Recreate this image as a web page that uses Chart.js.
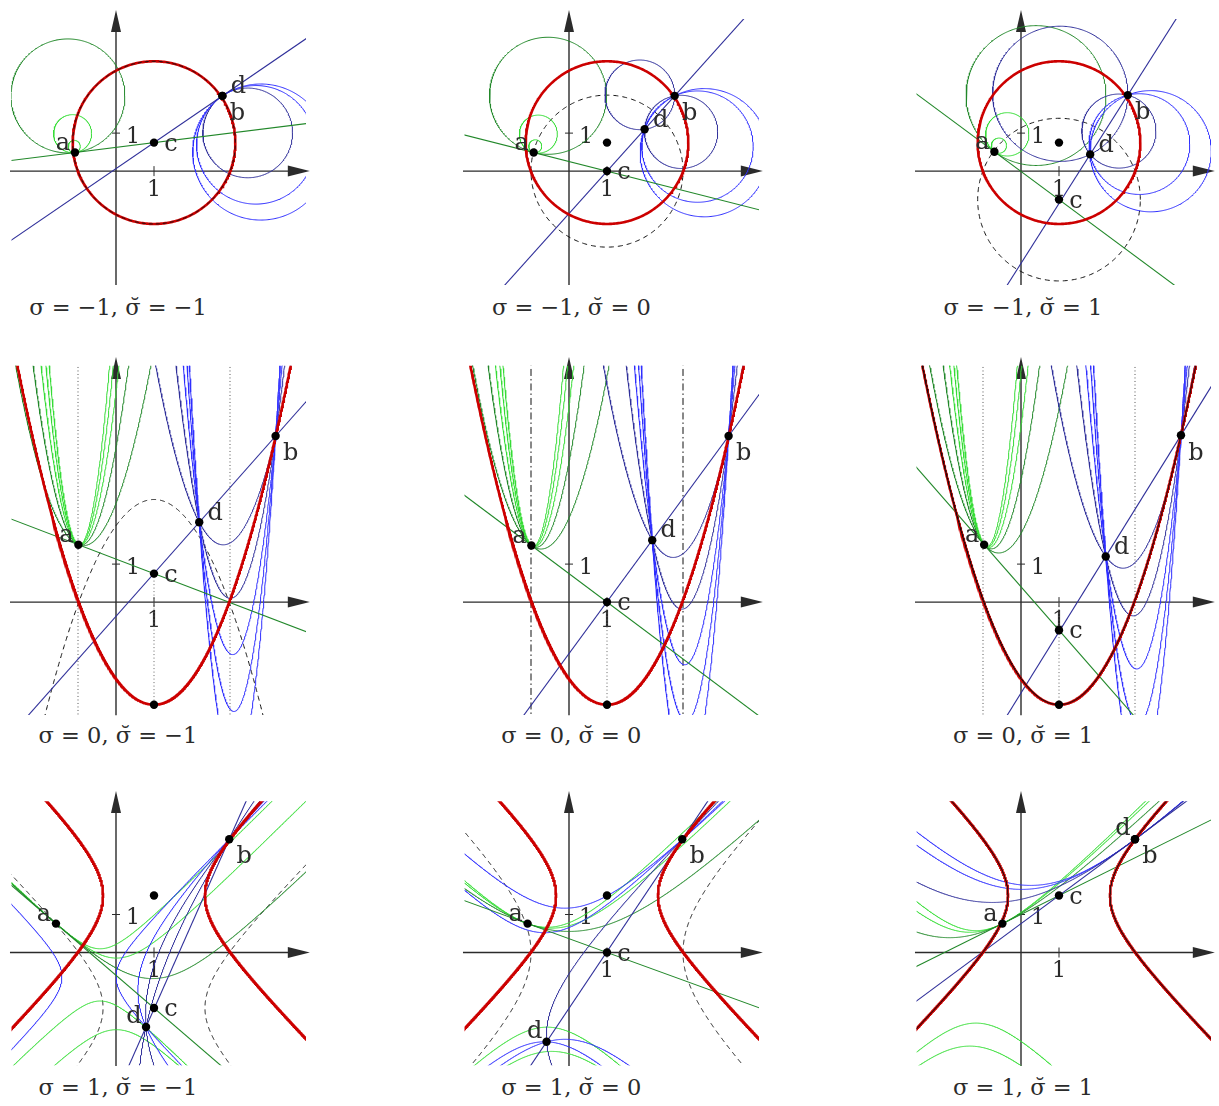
<!DOCTYPE html>
<html>
<head>
<meta charset="utf-8">
<script src="https://cdn.jsdelivr.net/npm/chart.js@4.4.1/dist/chart.umd.min.js"></script>
<style>
  body { margin: 0; background: #fff; width: 1219px; height: 1106px; position: relative; overflow: hidden; }
  canvas { position: absolute; }
  .cap { position: absolute; font-family: 'DejaVu Serif', serif; font-size: 22.5px; line-height: 24px;
         color: #2b2b2b; white-space: pre; transform: translateX(-50%); }
</style>
</head>
<body>
<script>
// ---- values (chart units, 1 = tick "1") ----
const captions = ['σ = −1, σ̆ = −1', 'σ = −1, σ̆ = 0', 'σ = −1, σ̆ = 1',
                  'σ = 0, σ̆ = −1', 'σ = 0, σ̆ = 0', 'σ = 0, σ̆ = 1',
                  'σ = 1, σ̆ = −1', 'σ = 1, σ̆ = 0', 'σ = 1, σ̆ = 1'];
const sigma = [-1, -1, -1, 0, 0, 0, 1, 1, 1];

const ptA = [[-1.08, 0.49], [-0.93, 0.49], [-0.70, 0.51], [-0.99, 1.51], [-0.99, 1.49], [-0.97, 1.51], [-1.58, 0.76], [-1.09, 0.76], [-0.49, 0.76]];
const ptB = [[2.80, 1.98], [2.78, 1.98], [2.81, 2.00], [4.20, 4.37], [4.20, 4.37], [4.21, 4.39], [2.98, 2.98], [2.98, 2.98], [3.00, 2.98]];
const ptC = [[1, 0.75], [1, 0], [1, -0.75], [1, 0.75], [1, 0], [1, -0.74], [1, -1.46], [1, 0], [1, 1.5]];
const ptD = [[2.80, 1.98], [1.99, 1.10], [1.82, 0.44], [2.19, 2.10], [2.19, 1.63], [2.23, 1.20], [0.79, -1.96], [-0.59, -2.35], [3.00, 2.98]];
const dotCentre = [null, [1, 0.75], [1, 0.75], [1, -2.7], [1, -2.7], [1, -2.7], [1, 1.5], [1, 1.5], null];

// cycles as [x0, y0, k]: circle (x-x0)²+(y-y0)²=k, parabola y=y0+k(x-x0)², hyperbola (x-x0)²-(y-y0)²=k
const redCycle = [[1, 0.75, 4.58], [1, 0.75, 4.58], [1, 0.75, 4.58], [1, -2.7, 0.69], [1, -2.7, 0.69], [1, -2.7, 0.69], [1, 1.5, 1.8], [1, 1.5, 1.8], [1, 1.5, 1.8]];
const dashCycle = [[1, 0.75, 4.58], [1, 0, 4.0], [1, -0.75, 4.58], [1, 2.7, -0.69], null, [1, -2.7, 0.69], [1, -1.46, 1.8], [1, 0, 4.0], [1, 1.5, 1.8]];

const guideX = [null, null, null, [-1, 3], [-1, 3], [-1, 3], null, null, null];
const guideDrop = [null, null, null, [0.75, -2.7], [0, -2.7], [0, -2.7], null, null, null];

// pencil members: circles -> offset of centre, parabolas -> leading coefficient, hyperbolas -> centre x
const greenParam = [[1.5, 0.5, 0.16], [1.54, 0.5, 0.17], [1.84, 0.57, 0.2],
                    [1.5, 3, 4.5, 6, 7.5], [1.5, 3, 4.5, 6, 7.5], [1.5, 3, 4.5, 6, 7.5],
                    [-0.419, 0.011, 0.957], [-0.577, -0.457, 0.002], [-1.186, -1.347, -1.882]];
const greenTone = [['d', 'l', 'l'], ['d', 'l', 'l'], ['d', 'l', 'l'],
                   ['d', 'd', 'l', 'l', 'l'], ['d', 'd', 'l', 'l', 'l'], ['d', 'd', 'l', 'l', 'l'],
                   ['l', 'l', 'd'], ['l', 'l', 'd'], ['l', 'l', 'd']];
const blueParam = [[1.18, 1.56, 1.79], [-0.7, 0.76, 1.34, 1.58], [-1.52, 0.31, 0.95, 1.3],
                   [1.5, 3, 4.5, 6, 7.5], [1.5, 3, 4.5, 6, 7.5], [1.5, 3, 4.5, 6, 7.5],
                   [-0.71, -1.5, -3, -8], [-0.11, -0.64, -2.56], [0.255, 0.018, -0.759]];
const blueTone = [['n', 'b', 'b'], ['n', 'n', 'b', 'b'], ['n', 'n', 'b', 'b'],
                  ['n', 'n', 'b', 'b', 'b'], ['n', 'n', 'b', 'b', 'b'], ['n', 'n', 'b', 'b', 'b'],
                  ['b', 'b', 'n', 'n'], ['b', 'b', 'n'], ['b', 'b', 'n']];

// ---- layout & style ----
const UNIT = 38;
const colOrigin = [116, 569.3, 1021];
const rowOrigin = [171, 601.7, 952.3];
const xClip = [-2.75, 5.0];
const yClip = [[-3.0, 4.0], [-2.97, 6.22], [-2.97, 3.98]];
const xAxisSpan = [-2.79, 5.1];
const yAxisSpan = [[-3.0, 4.24], [-2.98, 6.45], [-2.99, 4.25]];
const capBaseline = [315, 743, 1095];

const INK = '#2b2b2b';
const FONT = '22px "DejaVu Serif", serif';
const LABEL_FONT = '24px "DejaVu Serif", serif';
const COL = { red: '#cc0000', n: '#30309a', b: '#2f2fff', d: '#22882a', l: '#36dc36' };
const guideDash = { 3: [1, 2.5], 4: [7, 3, 1.5, 3], 5: [1, 2.5] };

// ---- geometry helpers ----
const mid = (P, Q) => [(P[0] + Q[0]) / 2, (P[1] + Q[1]) / 2];
const dist = (P, Q) => Math.hypot(Q[0] - P[0], Q[1] - P[1]);
const unit = (P, Q) => { const l = dist(P, Q); return [(Q[0] - P[0]) / l, (Q[1] - P[1]) / l]; };

function circlePts(cx, cy, r) {
  const pts = [];
  for (let i = 0; i <= 360; i++) {
    const t = i * Math.PI / 180;
    pts.push({ x: cx + r * Math.cos(t), y: cy + r * Math.sin(t) });
  }
  return pts;
}
function graphPts(f, yr) {
  const pts = [];
  for (let x = -3; x <= 5.3; x += 0.01) {
    const y = f(x);
    if (y >= yr[0] - 1.5 && y <= yr[1] + 1.5) pts.push({ x, y });
  }
  return pts;
}
function sidePts(g, yr) {
  const pts = [];
  for (let y = yr[0] - 0.3; y <= yr[1] + 0.3; y += 0.01) pts.push({ x: g(y), y });
  return pts;
}
function conic(sig, c, yr) {
  const [x0, y0, k] = c;
  if (sig < 0) return [circlePts(x0, y0, Math.sqrt(k))];
  if (sig === 0) return [graphPts(x => y0 + k * (x - x0) ** 2, yr)];
  if (k > 0) return [sidePts(y => x0 + Math.sqrt(k + (y - y0) ** 2), yr), sidePts(y => x0 - Math.sqrt(k + (y - y0) ** 2), yr)];
  return [graphPts(x => y0 + Math.sqrt(-k + (x - x0) ** 2), yr), graphPts(x => y0 - Math.sqrt(-k + (x - x0) ** 2), yr)];
}
// member of the pencil through P and Q (tangent along dir when P == Q)
function member(sig, P, Q, dir, s, side) {
  const M = mid(P, Q);
  if (sig < 0) {
    let w = [-dir[1], dir[0]];
    if ((side === 'up' && w[1] < 0) || (side === 'right' && w[0] < 0)) w = [-w[0], -w[1]];
    const h = dist(P, Q) / 2;
    return [M[0] + s * w[0], M[1] + s * w[1], h * h + s * s];
  }
  if (sig === 0) {
    const m = dir[1] / dir[0];
    const B = m - s * (P[0] + Q[0]);
    const C0 = P[1] - m * P[0] + s * P[0] * Q[0];
    const xv = -B / (2 * s);
    return [xv, s * xv * xv + B * xv + C0, s];
  }
  const w = [dir[1], dir[0]];
  const t = (s - M[0]) / w[0];
  const cy = M[1] + t * w[1];
  return [s, cy, (P[0] - s) ** 2 - (P[1] - cy) ** 2];
}
function linePts(P, dir) {
  const m = dir[1] / dir[0];
  return [{ x: -3.5, y: P[1] + m * (-3.5 - P[0]) }, { x: 5.8, y: P[1] + m * (5.8 - P[0]) }];
}

function curve(points, color, width, dash) {
  return { data: points, showLine: true, borderColor: color, borderWidth: width,
           borderDash: dash || [], pointRadius: 0, fill: false };
}

// ---- axes, ticks and labels ----
const decor = {
  id: 'decor',
  beforeDatasetsDraw(chart, args, opts) {
    const i = opts.panel, row = Math.floor(i / 3);
    const X = v => chart.scales.x.getPixelForValue(v), Y = v => chart.scales.y.getPixelForValue(v);
    const ctx = chart.ctx;
    ctx.save();
    ctx.strokeStyle = INK; ctx.fillStyle = INK; ctx.lineWidth = 1.4;
    const x0 = X(0), y0 = Y(0);
    const xe = X(xAxisSpan[1]), yt = Y(yAxisSpan[row][1]);
    ctx.beginPath();
    ctx.moveTo(X(xAxisSpan[0]), y0); ctx.lineTo(xe - 15, y0);
    ctx.moveTo(x0, Y(yAxisSpan[row][0])); ctx.lineTo(x0, yt + 15);
    ctx.stroke();
    ctx.beginPath(); ctx.moveTo(xe, y0); ctx.lineTo(xe - 22, y0 - 5.5); ctx.lineTo(xe - 22, y0 + 5.5); ctx.closePath(); ctx.fill();
    ctx.beginPath(); ctx.moveTo(x0, yt); ctx.lineTo(x0 - 5, yt + 22); ctx.lineTo(x0 + 5, yt + 22); ctx.closePath(); ctx.fill();
    ctx.lineWidth = 1;
    ctx.beginPath();
    ctx.moveTo(X(1), y0 - 5); ctx.lineTo(X(1), y0 + 5);
    ctx.moveTo(x0 - 4, Y(1)); ctx.lineTo(x0 + 4, Y(1));
    ctx.stroke();
    ctx.font = FONT;
    ctx.textAlign = 'center'; ctx.textBaseline = 'middle';
    ctx.fillText('1', X(1), y0 + 19);
    ctx.fillText('1', x0 + 17, Y(1) + 4);
    ctx.restore();
  },
  afterDatasetsDraw(chart, args, opts) {
    const i = opts.panel;
    const X = v => chart.scales.x.getPixelForValue(v), Y = v => chart.scales.y.getPixelForValue(v);
    const ctx = chart.ctx;
    const dOff = i >= 6 ? [-12, -10] : [16, -9];
    const marks = [['a', ptA[i], [-12, -9]], ['b', ptB[i], [15, 18]], ['c', ptC[i], [17, 2]], ['d', ptD[i], dOff]];
    ctx.save();
    ctx.fillStyle = INK;
    ctx.font = LABEL_FONT;
    ctx.textAlign = 'center'; ctx.textBaseline = 'middle';
    marks.forEach(([t, p, o]) => ctx.fillText(t, X(p[0]) + o[0], Y(p[1]) + o[1]));
    ctx.restore();
  }
};

function buildPanel(i) {
  const row = Math.floor(i / 3), col = i % 3;
  const sig = sigma[i], yr = yClip[row];
  const a = ptA[i], b = ptB[i], c = ptC[i], d = ptD[i];
  const ds = [];

  if (guideX[i]) {
    guideX[i].forEach(gx => ds.push(curve([{ x: gx, y: yr[0] - 1 }, { x: gx, y: yr[1] + 1 }], i === 4 ? '#111' : '#555', 1, guideDash[i])));
    const g = guideDrop[i];
    ds.push(curve([{ x: 1, y: g[0] }, { x: 1, y: g[1] }], '#666', 1, [1, 2.5]));
  }
  const overlay = dashCycle[i] && dashCycle[i].join() === redCycle[i].join();
  if (dashCycle[i] && !overlay) conic(sig, dashCycle[i], yr).forEach(p => ds.push(curve(p, '#111', 1, [5, 4])));

  const gDir = unit(a, c);
  greenParam[i].forEach((s, j) => {
    conic(sig, member(sig, a, a, gDir, s, 'up'), yr).forEach(p => ds.push(curve(p, COL[greenTone[i][j]], 1)));
  });
  const same = dist(d, b) < 1e-6;
  const bDir = same ? unit(c, b) : unit(d, b);
  blueParam[i].forEach((s, j) => {
    conic(sig, member(sig, d, b, bDir, s, 'right'), yr).forEach(p => ds.push(curve(p, COL[blueTone[i][j]], 1)));
  });

  ds.push(curve(linePts(a, gDir), COL.d, 1.1));
  ds.push(curve(linePts(b, bDir), COL.n, 1.1));

  conic(sig, redCycle[i], yr).forEach(p => ds.push(curve(p, COL.red, 2.6)));
  if (overlay) conic(sig, dashCycle[i], yr).forEach(p => ds.push(curve(p, '#111', 0.9, i === 0 ? [4, 3] : [])));

  const pts = [a, b, c, d].concat(dotCentre[i] ? [dotCentre[i]] : []).map(p => ({ x: p[0], y: p[1] }));
  ds.push({ data: pts, pointRadius: 4.2, pointBackgroundColor: '#000', pointBorderWidth: 0, showLine: false, clip: false });

  ds.forEach((s, k) => { s.order = ds.length - k; });

  const ox = colOrigin[col], oy = rowOrigin[row];
  const left = ox - 116, top = oy - yAxisSpan[row][1] * UNIT - 4;
  const width = 320, height = (yAxisSpan[row][1] - yAxisSpan[row][0]) * UNIT + 10;
  const cv = document.createElement('canvas');
  cv.width = width; cv.height = Math.round(height);
  cv.style.left = left + 'px'; cv.style.top = top + 'px';
  document.body.appendChild(cv);

  const pad = {
    left: (ox + xClip[0] * UNIT) - left,
    right: (left + width) - (ox + xClip[1] * UNIT),
    top: (oy - yr[1] * UNIT) - top,
    bottom: (top + Math.round(height)) - (oy - yr[0] * UNIT)
  };

  new Chart(cv, {
    type: 'scatter',
    data: { datasets: ds },
    options: {
      responsive: false, animation: false, events: [],
      layout: { padding: pad },
      scales: {
        x: { type: 'linear', min: xClip[0], max: xClip[1], display: false },
        y: { type: 'linear', min: yr[0], max: yr[1], display: false }
      },
      plugins: { legend: { display: false }, tooltip: { enabled: false }, decor: { panel: i } }
    },
    plugins: [decor]
  });

  const cap = document.createElement('div');
  cap.className = 'cap';
  cap.textContent = captions[i];
  cap.style.left = (ox + 2) + 'px';
  cap.style.top = (capBaseline[row] - 20) + 'px';
  document.body.appendChild(cap);
}

for (let i = 0; i < 9; i++) buildPanel(i);
</script>
</body>
</html>
